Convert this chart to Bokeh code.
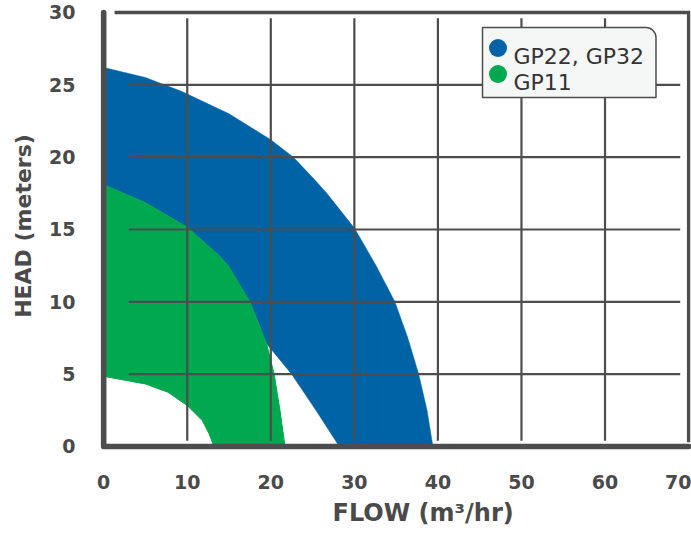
from bokeh.plotting import figure
from bokeh.models import Range1d, FixedTicker, BoxAnnotation, Label, Title
from bokeh.embed import file_html
from bokeh.resources import INLINE

# ---- data ----
flow_ticks = [0, 10, 20, 30, 40, 50, 60, 70]
head_ticks = [0, 5, 10, 15, 20, 25, 30]

series_names = ["GP22, GP32", "GP11"]
series_colors = ["#0063a6", "#00a84f"]

# GP22/GP32 envelope
gp22_upper_flow = [0, 5, 9.3, 15, 20, 22.7, 25, 26.7, 30, 32.6, 34.85, 36.4, 37.7, 38.7, 39.4]
gp22_upper_head = [26.2, 25.5, 24.55, 23.0, 21.2, 20, 18.6, 17.5, 15.1, 12.5, 10, 7.5, 5, 2.5, 0]
gp22_lower_flow = [28.2, 25.4, 22.5, 19.5]
gp22_lower_head = [0, 2.5, 5, 7.1]

# GP11 envelope
gp11_upper_flow = [0, 5, 10, 13.8, 14.9, 17.5, 19.5, 20.4, 21.1, 21.7]
gp11_upper_head = [18.1, 16.85, 15.15, 13.2, 12.5, 10, 7.1, 5, 2.5, 0]
gp11_lower_flow = [0, 5, 7.7, 10, 11.8, 12.6, 13.2]
gp11_lower_head = [4.85, 4.32, 3.75, 2.83, 1.79, 0.9, 0]

GRID = "#4d4d4d"
TEXT = "#4a4a4a"
FONT = "DejaVu Sans"

p = figure(width=691, height=533, output_backend="svg", toolbar_location=None,
           x_range=Range1d(-0.5, 70.35), y_range=Range1d(-0.346, 30.829),
           min_border_left=99, min_border_right=0, min_border_top=0, min_border_bottom=82)
p.outline_line_color = None
p.grid.visible = False
p.background_fill_color = "white"
p.border_fill_color = "white"

# ---- envelopes ----
# GP22 region: upper curve, lower curve, then the part hidden under GP11
hidden = [(f, h) for f, h in zip(gp11_upper_flow, gp11_upper_head) if h > gp22_lower_head[-1]][::-1]
blue_x = gp22_upper_flow + gp22_lower_flow + [f for f, h in hidden]
blue_y = gp22_upper_head + gp22_lower_head + [h for f, h in hidden]
p.patch(blue_x, blue_y, fill_color=series_colors[0], line_color=series_colors[0],
        line_width=0.5, line_join="round")

green_x = gp11_upper_flow + gp11_lower_flow[::-1]
green_y = gp11_upper_head + gp11_lower_head[::-1]
p.patch(green_x, green_y, fill_color=series_colors[1], line_color=series_colors[1],
        line_width=1, line_join="round")

# ---- grid drawn over the fills ----
inner_x = flow_ticks[1:-1]
inner_y = head_ticks[1:-1]
p.segment(x0=inner_x, y0=[0.4] * len(inner_x), x1=inner_x, y1=[29.6] * len(inner_x),
          line_color=GRID, line_width=2.2)
p.segment(x0=[3.0] * len(inner_y), y0=inner_y, x1=[69.0] * len(inner_y), y1=inner_y,
          line_color=GRID, line_width=2.2)
p.line([1.3, flow_ticks[-1], flow_ticks[-1]], [head_ticks[-1], head_ticks[-1], 0.3],
       line_color=GRID, line_width=3.3, line_join="miter")

# ---- axis lines ----
p.line([flow_ticks[0], flow_ticks[0], flow_ticks[-1]], [head_ticks[-1], head_ticks[0], head_ticks[0]],
       line_color=GRID, line_width=5.6, line_cap="round", line_join="round")

# ---- axes (labels only) ----
p.xaxis.ticker = FixedTicker(ticks=flow_ticks)
p.yaxis.ticker = FixedTicker(ticks=head_ticks)
for ax in (p.xaxis, p.yaxis):
    ax.axis_line_color = None
    ax.major_tick_line_color = None
    ax.minor_tick_line_color = None
    ax.major_label_text_font = FONT
    ax.major_label_text_font_size = "19px"
    ax.major_label_text_font_style = "bold"
    ax.major_label_text_color = TEXT
p.yaxis.major_label_standoff = 18
p.xaxis.major_label_standoff = 17
p.yaxis.axis_label = "HEAD (meters)"
p.yaxis.axis_label_standoff = 10
p.yaxis.axis_label_text_font = FONT
p.yaxis.axis_label_text_font_size = "22px"
p.yaxis.axis_label_text_font_style = "bold"
p.yaxis.axis_label_text_color = TEXT

# x-axis title, placed right of centre as in the reference
p.add_layout(Title(text="FLOW (m³/hr)", align="left", offset=233, standoff=10,
                   text_font=FONT, text_font_size="24px", text_font_style="bold",
                   text_color=TEXT), "below")

# ---- legend ----
p.add_layout(BoxAnnotation(left=383, right=556.5, bottom=354, top=424,
                           left_units="screen", right_units="screen",
                           top_units="screen", bottom_units="screen",
                           fill_color="#f5f6f6", fill_alpha=1, line_color=GRID,
                           line_alpha=1, line_width=1.5, border_radius=(0, 10, 0, 0)))
for i, (name, col) in enumerate(zip(series_names, series_colors)):
    cy = 403.5 - 26 * i
    p.add_layout(BoxAnnotation(left=389.5, right=407.5, bottom=cy - 9, top=cy + 9,
                               left_units="screen", right_units="screen",
                               top_units="screen", bottom_units="screen",
                               fill_color=col, fill_alpha=1, line_color=None,
                               border_radius=9))
    p.add_layout(Label(x=414, y=cy - 8.5, x_units="screen", y_units="screen", text=name,
                       text_font=FONT, text_font_size="22px", text_color="#333333",
                       text_baseline="alphabetic", text_align="left"))

open("out.html", "w").write(file_html(p, INLINE))
